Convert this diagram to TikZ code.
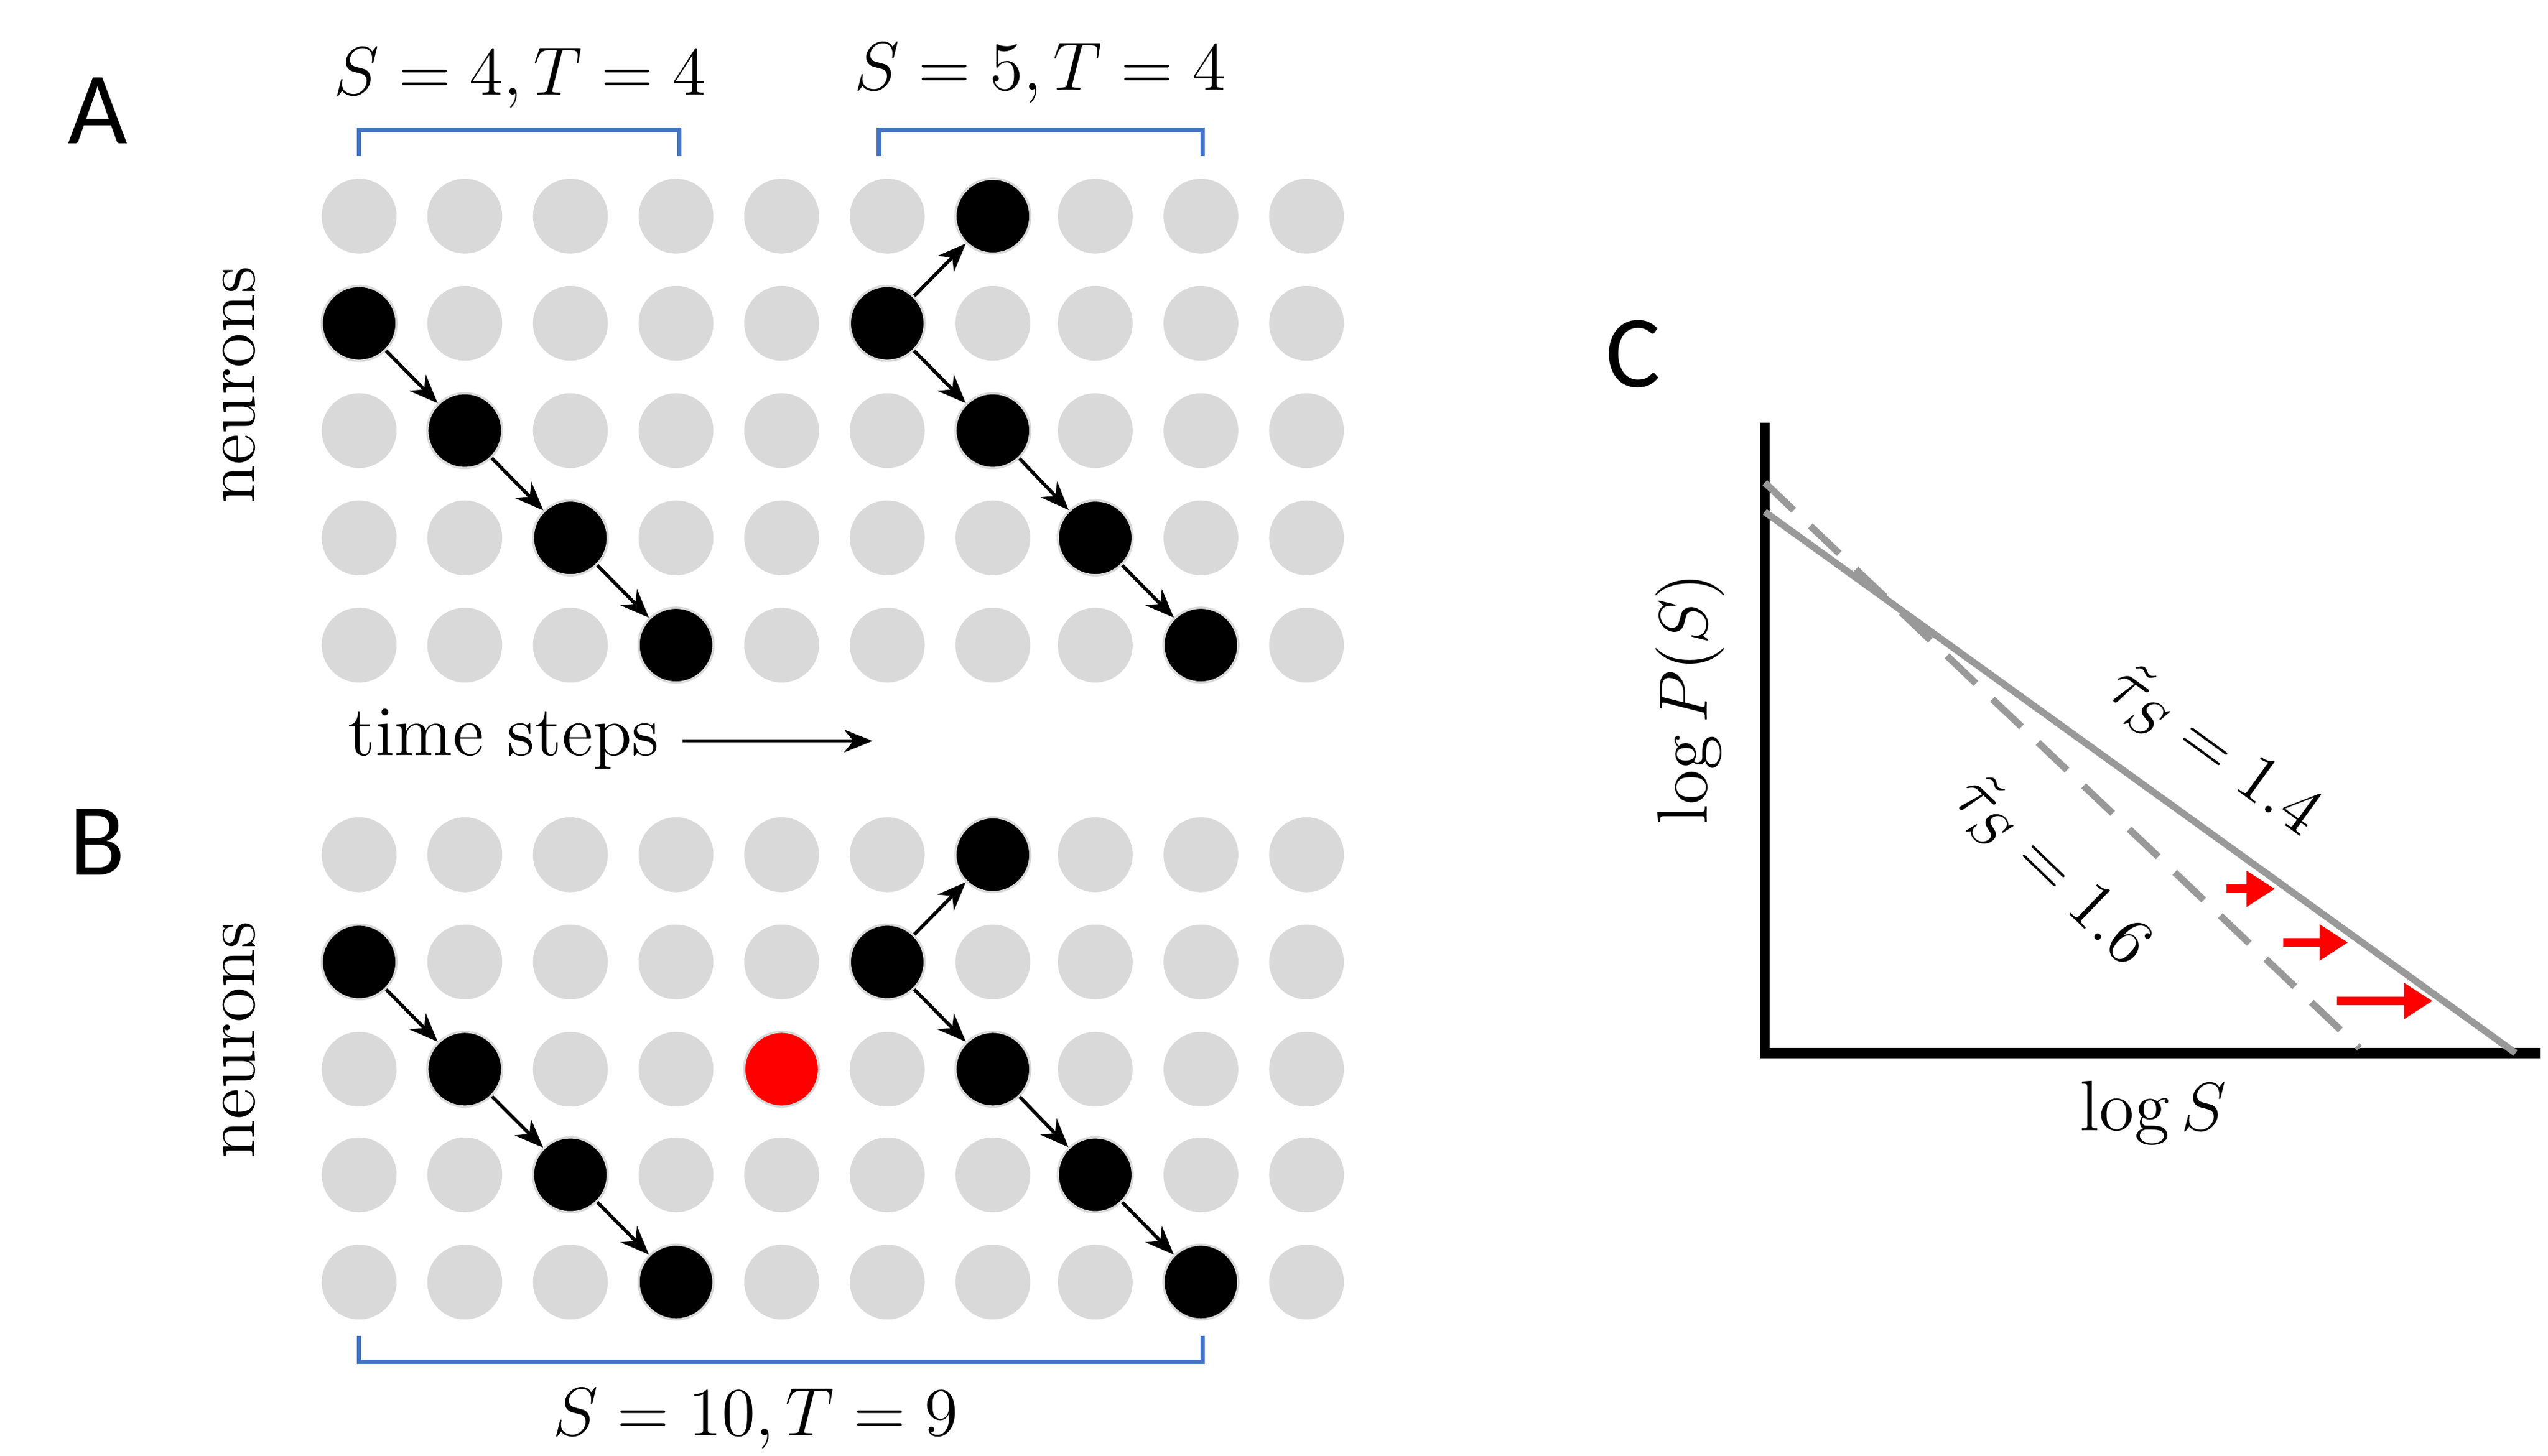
\documentclass[tikz,border=0pt]{standalone}
\usepackage{fontspec}
\newfontfamily\lab{Carlito}
\usetikzlibrary{arrows.meta}
\definecolor{brkblue}{HTML}{4472C4}
\begin{document}
\begin{tikzpicture}[x=0.01cm,y=-0.01cm,
  dot/.style={circle,fill=black!15,minimum size=0.46cm,inner sep=0pt},
  act/.style={circle,fill=black,draw=black!15,line width=0.4pt,minimum size=0.46cm,inner sep=0pt},
  rednode/.style={circle,fill=red,draw=black!15,minimum size=0.46cm,inner sep=0pt},
  spk/.style={-{Stealth[length=5pt,width=4pt]},line width=0.6pt},
  brk/.style={draw=brkblue,line width=0.8pt},
  txt/.style={font=\fontsize{12.5}{15}\selectfont,inner sep=0pt},
  big/.style={font=\lab\fontsize{18}{20}\selectfont,inner sep=0pt}]
\useasboundingbox (0,0) rectangle (1568,896);
\def\cols{221,286,351,416,481,546,611,674,739,804}
\foreach \p/\ys in {a/{133,199,265,331,397},b/{526,592,658,723,789}}{
  \foreach \y [count=\r] in \ys {
    \foreach \x [count=\c] in \cols {
      \node[dot] (\p-\r-\c) at (\x,\y) {};
    }
  }
}
\foreach \p in {a,b}{
  \node[act] (\p k1) at (\p-2-1) {};
  \node[act] (\p k2) at (\p-3-2) {};
  \node[act] (\p k3) at (\p-4-3) {};
  \node[act] (\p k4) at (\p-5-4) {};
  \node[act] (\p m1) at (\p-2-6) {};
  \node[act] (\p m0) at (\p-1-7) {};
  \node[act] (\p m2) at (\p-3-7) {};
  \node[act] (\p m3) at (\p-4-8) {};
  \node[act] (\p m4) at (\p-5-9) {};
  \draw[spk] (\p k1) -- (\p k2);
  \draw[spk] (\p k2) -- (\p k3);
  \draw[spk] (\p k3) -- (\p k4);
  \draw[spk] (\p m1) -- (\p m0);
  \draw[spk] (\p m1) -- (\p m2);
  \draw[spk] (\p m2) -- (\p m3);
  \draw[spk] (\p m3) -- (\p m4);
}
\node[rednode] (rd) at (b-3-5) {};
\node[big] (la) at (60,68) {A};
\node[big] (lb) at (60,518) {B};
\node[big] (lc) at (1005,218) {C};
\node[txt,rotate=90] (na) at (147,237) {neurons};
\node[txt,rotate=90] (nb) at (147,640) {neurons};
\node[txt] (ts) at (310,455) {time steps};
\coordinate (t1) at (420,456); \coordinate (t2) at (537,456);
\draw[-{Stealth[length=5pt,width=4pt]},line width=0.5pt] (t1) -- (t2);
\coordinate (b1) at (221,96); \coordinate (b2) at (418,96);
\draw[brk] (b1) -- ++(0,-16) -| (b2);
\coordinate (b3) at (541,96); \coordinate (b4) at (740,96);
\draw[brk] (b3) -- ++(0,-16) -| (b4);
\coordinate (b5) at (221,822); \coordinate (b6) at (740,822);
\draw[brk] (b5) -- ++(0,16) -| (b6);
\node[txt] (s1) at (320,48) {$S=4, T=4$};
\node[txt] (s2) at (640,45) {$S=5, T=4$};
\node[txt] (s3) at (465,873) {$S=10, T=9$};
\coordinate (o) at (1086,648); \coordinate (yt) at (1086,260); \coordinate (xr) at (1563,648);
\draw[line width=1.8pt] (yt) -- (o) -- (xr);
\coordinate (l1) at (1086,315); \coordinate (l2) at (1548,648);
\draw[black!40,line width=1.2pt] (l1) -- (l2);
\coordinate (d1) at (1086,297); \coordinate (d2) at (1452,645);
\draw[black!40,line width=1.2pt,dash pattern=on 7pt off 4pt] (d1) -- (d2);
\node[txt,rotate=-36] (t14) at (1362,463) {$\tilde\tau_S=1.4$};
\node[txt,rotate=-44] (t16) at (1262,537) {$\tilde\tau_S=1.6$};
\node[txt,rotate=90] (ly) at (1040,430) {$\log P(S)$};
\node[txt] (lx) at (1325,685) {$\log S$};
\foreach \a/\b/\y in {1370/1400/547,1405/1445/580,1438/1497/616}{
  \coordinate (ra\y) at (\a,\y); \coordinate (rb\y) at (\b,\y);
  \draw[draw=red,fill=red,line width=1.5pt,-{Triangle[length=5pt,width=6pt]}] (ra\y) -- (rb\y);
}
\end{tikzpicture}
\end{document}
